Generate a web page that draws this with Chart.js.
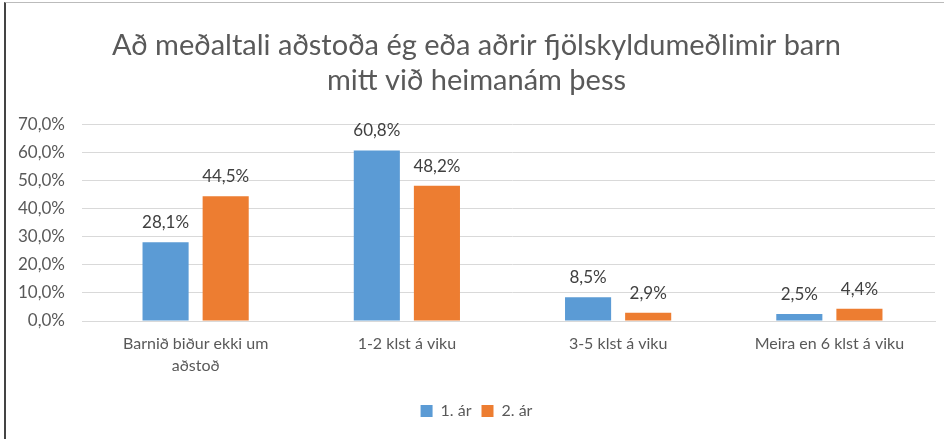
<!DOCTYPE html>
<html>
<head>
<meta charset="utf-8">
<script src="https://cdn.jsdelivr.net/npm/chart.js@4/dist/chart.umd.min.js"></script>
<style>
  html, body { margin: 0; padding: 0; background: #fff; }
  #wrap { position: relative; width: 944px; height: 439px; }
  #frame { position: absolute; left: 4px; top: 2px; right: 0; bottom: 0; border-left: 2px solid #444; border-top: 1px solid #bbb; }
  canvas { position: absolute; left: 0; top: 0; }
</style>
</head>
<body>
<div id="wrap">
  <div id="frame"></div>
  <canvas id="myChart" width="944" height="439"></canvas>
</div>
<script>
const categories = [['Barnið biður ekki um', 'aðstoð'], '1-2 klst á viku', '3-5 klst á viku', 'Meira en 6 klst á viku'];
const seriesNames = ['1. ár', '2. ár'];
const year1 = [28.1, 60.8, 8.5, 2.5];
const year2 = [44.5, 48.2, 2.9, 4.4];
const yTicks = [0, 10, 20, 30, 40, 50, 60, 70];

const fmt = v => v.toFixed(1).replace('.', ',') + '%';
const fontFamily = 'Lato, "Open Sans", sans-serif';
const grey = '#595959';

// labels above bars
const barLabels = {
    id: 'barLabels',
    afterDatasetsDraw(chart) {
        const ctx = chart.ctx;
        ctx.save();
        ctx.font = '17px ' + fontFamily;
        ctx.fillStyle = '#404040';
        ctx.textAlign = 'center';
        ctx.textBaseline = 'alphabetic';
        chart.data.datasets.forEach((ds, i) => {
            chart.getDatasetMeta(i).data.forEach((bar, j) => {
                ctx.fillText(fmt(ds.data[j]), bar.x, bar.y - 14);
            });
        });
        ctx.restore();
    }
};

const ctx = document.getElementById('myChart').getContext('2d');
const myChart = new Chart(ctx, {
    type: 'bar',
    data: {
        labels: categories,
        datasets: [{
            label: seriesNames[0],
            data: year1,
            backgroundColor: '#5b9bd5',
            categoryPercentage: 0.569,
            barPercentage: 0.767
        }, {
            label: seriesNames[1],
            data: year2,
            backgroundColor: '#ed7d31',
            categoryPercentage: 0.569,
            barPercentage: 0.767
        }]
    },
    options: {
        responsive: false,
        animation: false,
        layout: { padding: { left: 18, right: 9, top: 28, bottom: 10 } },
        plugins: {
            title: {
                display: true,
                text: ['Að meðaltali aðstoða ég eða aðrir fjölskyldumeðlimir barn', 'mitt við heimanám þess'],
                color: grey,
                font: { family: fontFamily, size: 29, weight: 'normal' },
                lineHeight: 1.03,
                padding: { top: 0, bottom: 27 }
            },
            legend: {
                position: 'bottom',
                labels: {
                    color: grey,
                    font: { family: fontFamily, size: 16 },
                    boxWidth: 12,
                    boxHeight: 12,
                    padding: 10
                }
            },
            tooltip: { enabled: false }
        },
        scales: {
            x: {
                grid: { display: false },
                border: { color: '#d9d9d9', width: 1 },
                ticks: { color: grey, font: { family: fontFamily, size: 16, lineHeight: 1.375 }, maxRotation: 0, padding: 4 },
                afterFit: s => { s.height = 72; }
            },
            y: {
                min: 0,
                max: 70,
                afterBuildTicks: s => { s.ticks = yTicks.map(v => ({ value: v })); },
                grid: { color: '#d9d9d9' },
                border: { display: false },
                ticks: { color: grey, font: { family: fontFamily, size: 17 }, callback: v => fmt(v), padding: 17 },
                afterFit: s => { s.width = 72; }
            }
        }
    },
    plugins: [barLabels]
});
</script>
</body>
</html>
